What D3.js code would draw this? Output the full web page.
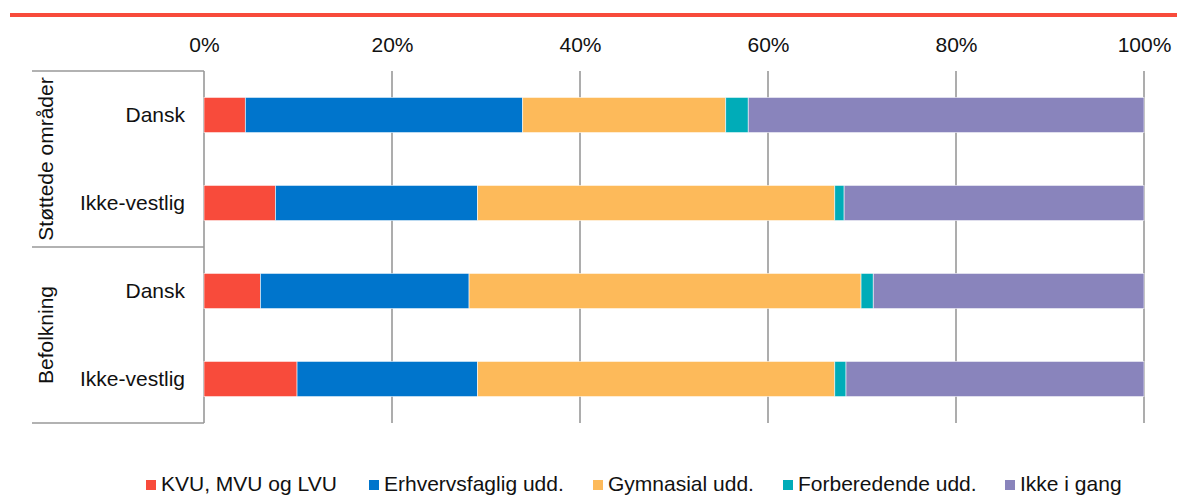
<!DOCTYPE html>
<html><head><meta charset="utf-8">
<script src="https://cdn.jsdelivr.net/npm/d3@7"></script>
<style>body{margin:0;background:#fff}svg{display:block;font-family:"Liberation Sans",Arial,sans-serif}</style>
</head><body><svg id="c" width="1177" height="495"></svg>
<script>
const categories = ["Dansk", "Ikke-vestlig", "Dansk", "Ikke-vestlig"];
const groups = ["Støttede områder", "Befolkning"];
const seriesNames = ["KVU, MVU og LVU", "Erhvervsfaglig udd.", "Gymnasial udd.", "Forberedende udd.", "Ikke i gang"];
const kvu = [4.4, 7.6, 6.0, 9.9];
const erhverv = [29.5, 21.5, 22.2, 19.2];
const gymnasial = [21.6, 38.0, 41.7, 38.0];
const forbered = [2.4, 1.0, 1.3, 1.2];
const ikke = [42.1, 31.9, 28.8, 31.7];
const tickValues = [0, 20, 40, 60, 80, 100];
const colors = ["#F84B3B", "#0075CC", "#FDBA5A", "#00ACB8", "#8984BC"];

const svg = d3.select("#c");
const pLeft = 204, pRight = 1144, pTop = 71, pBottom = 423;
const x = d3.scaleLinear().domain([0, 100]).range([pLeft, pRight]);
const rows = d3.range(categories.length);
const y = d3.scaleBand().domain(rows).range([pTop, pBottom]).paddingInner(0.6).paddingOuter(0.3);

// top red rule
svg.append("rect").attr("x", 10).attr("y", 13).attr("width", 1167).attr("height", 4).attr("fill", "#F84B3B");

// gridlines
svg.append("g").selectAll("line").data(tickValues).join("line")
  .attr("x1", d => x(d)).attr("x2", d => x(d)).attr("y1", pTop).attr("y2", pBottom)
  .attr("stroke", "#999").attr("stroke-width", 1.6);

// tick labels via axis
const ax = svg.append("g").attr("transform", `translate(0,${pTop})`)
  .call(d3.axisTop(x).tickValues(tickValues).tickFormat(d => d + "%").tickSize(0).tickPadding(19));
ax.select(".domain").remove();
ax.selectAll("text").attr("font-size", 21).attr("fill", "#111").attr("font-family", "Liberation Sans, Arial, sans-serif");

// stacked bars
const table = rows.map(i => ({i, vals: [kvu[i], erhverv[i], gymnasial[i], forbered[i], ikke[i]]}));
const stack = d3.stack().keys(d3.range(5)).value((d, k) => d.vals[k]);
const stacked = stack(table);
svg.append("g").selectAll("g").data(stacked).join("g").attr("fill", (d, k) => colors[k])
  .selectAll("rect").data(d => d).join("rect")
  .attr("x", d => x(d[0])).attr("width", d => x(d[1]) - x(d[0]))
  .attr("y", d => y(d.data.i)).attr("height", y.bandwidth())
  .attr("stroke", "#fff").attr("stroke-width", 0.8).attr("stroke-opacity", 0.7);

// left box lines
const sep = [pTop, (pTop + pBottom) / 2, pBottom];
svg.append("g").selectAll("line").data(sep).join("line")
  .attr("x1", 32).attr("x2", pLeft).attr("y1", d => d).attr("y2", d => d)
  .attr("stroke", "#999").attr("stroke-width", 1.6);

// category labels
svg.append("g").selectAll("text").data(rows).join("text")
  .attr("x", 185).attr("y", i => y(i) + y.bandwidth() / 2).attr("dy", "0.35em")
  .attr("text-anchor", "end").attr("font-size", 21).attr("fill", "#111")
  .text(i => categories[i]);

// group labels
svg.append("g").selectAll("text").data(groups).join("text")
  .attr("transform", (d, g) => `translate(53,${(sep[g] + sep[g + 1]) / 2}) rotate(-90)`)
  .attr("text-anchor", "middle").attr("font-size", 21).attr("fill", "#111")
  .text(d => d);

// legend
const legX = [146, 369, 593, 783, 1005];
const leg = svg.append("g").selectAll("g").data(seriesNames).join("g")
  .attr("transform", (d, k) => `translate(${legX[k]},0)`);
leg.append("rect").attr("x", 0).attr("y", 480).attr("width", 10).attr("height", 10).attr("fill", (d, k) => colors[k]);
leg.append("text").attr("x", 15).attr("y", 491).attr("font-size", 21).attr("fill", "#111").text(d => d);
</script></body></html>
